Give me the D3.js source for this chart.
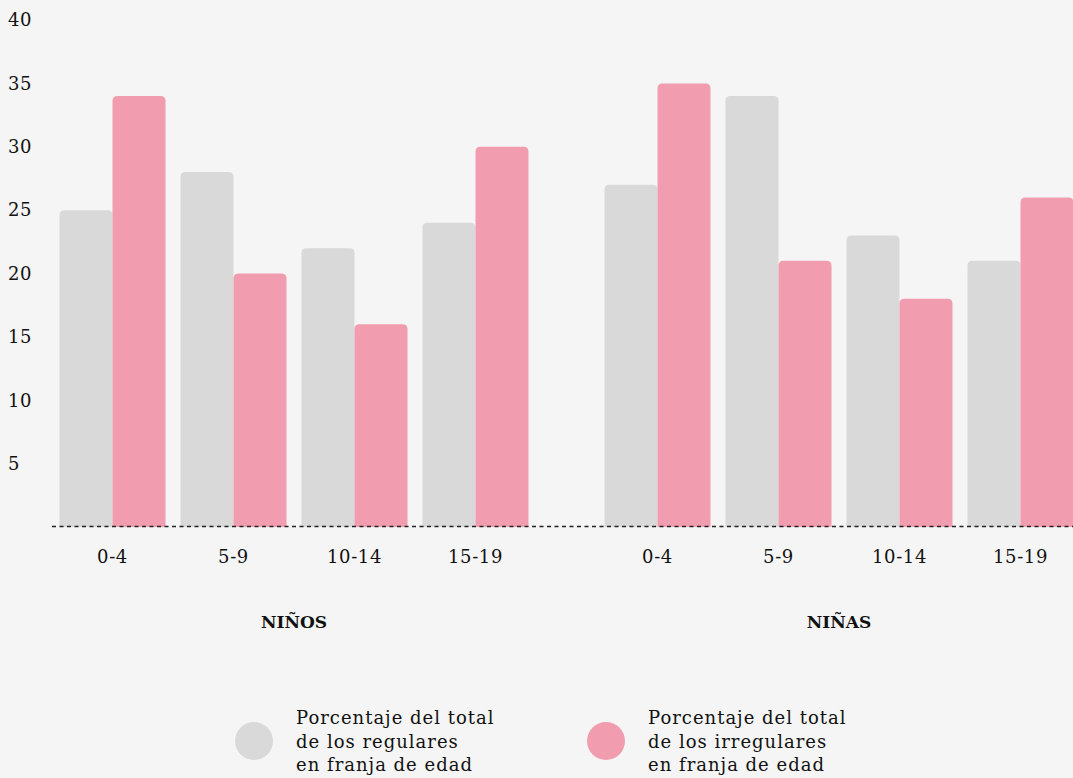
<!DOCTYPE html>
<html>
<head>
<meta charset="utf-8">
<script src="https://cdn.jsdelivr.net/npm/d3@7"></script>
<style>
  html, body { margin: 0; padding: 0; background: #f5f5f5; }
  svg { display: block; font-family: "DejaVu Serif", serif; }
</style>
</head>
<body>
<svg id="chart"></svg>
<script>
// data
const groups = ["NIÑOS", "NIÑAS"]
const ageBands = ["0-4", "5-9", "10-14", "15-19"]
const seriesKeys = ["regulares", "irregulares"]
const regularesNinos = [25, 28, 22, 24]
const irregularesNinos = [34, 20, 16, 30]
const regularesNinas = [27, 34, 23, 21]
const irregularesNinas = [35, 21, 18, 26]
const yTicks = [5, 10, 15, 20, 25, 30, 35, 40]
const legendLabels = [
  ["Porcentaje del total", "de los regulares", "en franja de edad"],
  ["Porcentaje del total", "de los irregulares", "en franja de edad"],
]

const values = {
  "NIÑOS": { regulares: regularesNinos, irregulares: irregularesNinos },
  "NIÑAS": { regulares: regularesNinas, irregulares: irregularesNinas },
}

const colors = { regulares: "#d9d9d9", irregulares: "#f29cb0" }

const dimensions = { width: 1073, height: 778 }

const svg = d3.select("#chart")
    .attr("width", dimensions.width)
    .attr("height", dimensions.height)

svg.append("rect")
    .attr("width", dimensions.width)
    .attr("height", dimensions.height)
    .attr("fill", "#f5f5f5")

// scales
const y = d3.scaleLinear()
  .domain([0, 40])
  .range([527, 20])

const x0 = d3.scaleBand()
  .domain(groups)
  .range([52, 1081])
  .paddingInner(61 / 545)

const x1 = d3.scaleBand()
  .domain(ageBands)
  .range([0, x0.bandwidth()])
  .paddingInner(15 / 121)
  .paddingOuter(7.5 / 121)

const x2 = d3.scaleBand()
  .domain(seriesKeys)
  .range([0, x1.bandwidth()])

// y tick labels
svg.append("g")
  .selectAll("text")
  .data(yTicks)
  .join("text")
    .attr("x", 8)
    .attr("y", d => y(d))
    .attr("dy", "0.35em")
    .attr("font-size", 18)
    .attr("letter-spacing", 0.6)
    .attr("fill", "#111")
    .text(d => d)

// bars with rounded tops
const r = 5
const topRounded = (x, yTop, w, yBottom) => {
  const rr = Math.min(r, (yBottom - yTop) / 2)
  return `M${x},${yBottom}V${yTop + rr}Q${x},${yTop} ${x + rr},${yTop}` +
    `H${x + w - rr}Q${x + w},${yTop} ${x + w},${yTop + rr}V${yBottom}Z`
}

groups.forEach(g => {
  const gx = x0(g)
  const bounds = svg.append("g")
  ageBands.forEach((band, i) => {
    seriesKeys.forEach(key => {
      const v = values[g][key][i]
      const bx = gx + x1(band) + x2(key)
      bounds.append("path")
        .attr("d", topRounded(bx, y(v), x2.bandwidth(), y(0)))
        .attr("fill", colors[key])
    })
    svg.append("text")
      .attr("x", gx + x1(band) + x1.bandwidth() / 2)
      .attr("y", 557)
      .attr("dy", "0.35em")
      .attr("text-anchor", "middle")
      .attr("font-size", 18)
      .attr("letter-spacing", 0.6)
      .attr("fill", "#111")
      .text(band)
  })
  svg.append("text")
    .attr("x", gx + x0.bandwidth() / 2)
    .attr("y", 622)
    .attr("dy", "0.35em")
    .attr("text-anchor", "middle")
    .attr("font-size", 17)
    .attr("font-weight", "bold")
    .attr("fill", "#111")
    .text(g)
})

// dashed baseline
svg.append("line")
  .attr("x1", 52)
  .attr("x2", dimensions.width)
  .attr("y1", y(0) - 0.5)
  .attr("y2", y(0) - 0.5)
  .attr("stroke", "#222")
  .attr("stroke-width", 1.3)
  .attr("stroke-dasharray", "4,3.5")

// legend
const legendX = [254, 606]
seriesKeys.forEach((key, i) => {
  const lg = svg.append("g")
  lg.append("circle")
    .attr("cx", legendX[i])
    .attr("cy", 741)
    .attr("r", 19)
    .attr("fill", colors[key])
  lg.selectAll("text")
    .data(legendLabels[i])
    .join("text")
      .attr("x", legendX[i] + 42)
      .attr("y", (d, j) => 718 + j * 23.5)
      .attr("dy", "0.35em")
      .attr("font-size", 18)
      .attr("letter-spacing", 1)
      .attr("fill", "#111")
      .text(d => d)
})
</script>
</body>
</html>
